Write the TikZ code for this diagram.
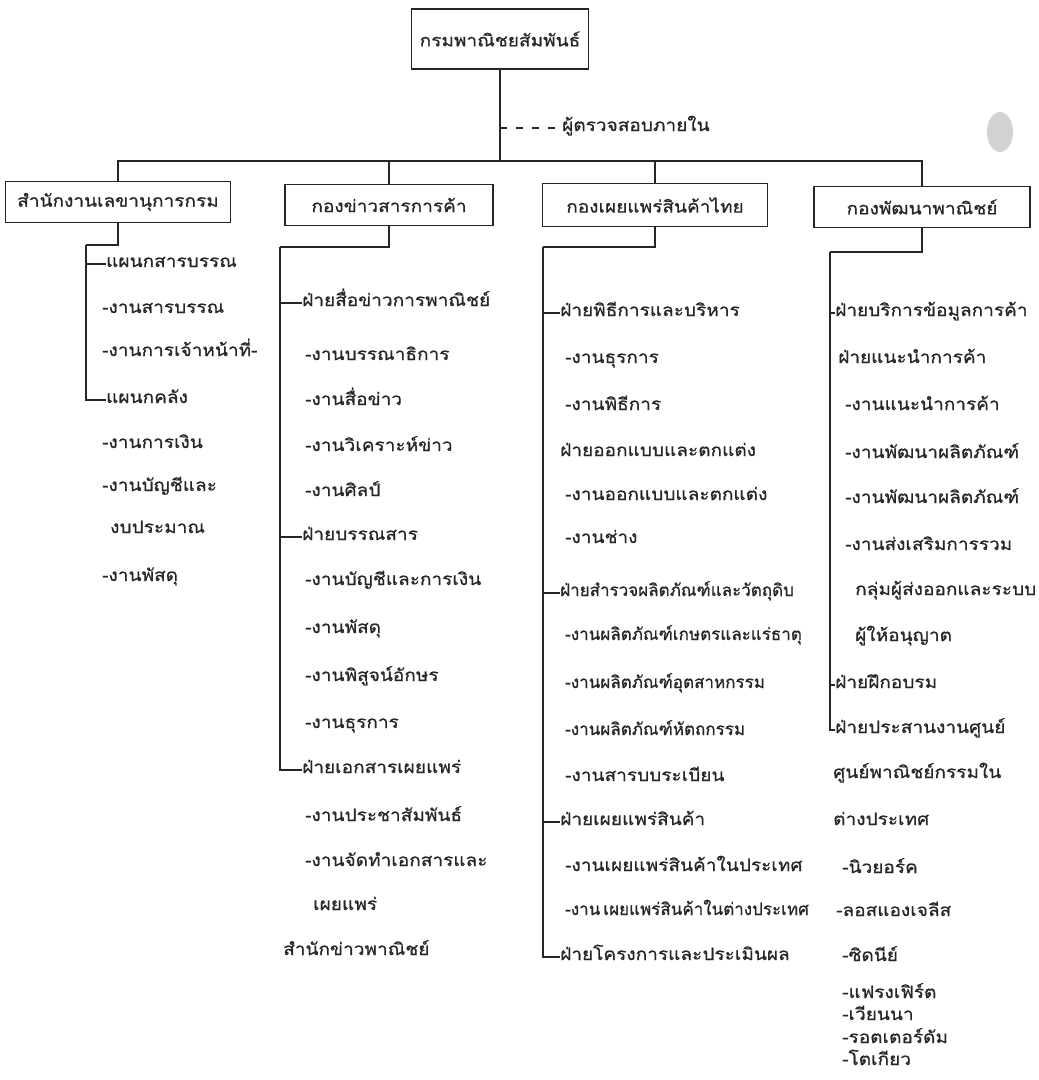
\documentclass[tikz,border=0pt]{standalone}
\usepackage{fontspec}
\newfontfamily\thaifont[Script=Thai,FakeStretch=1.12,FakeBold=0.7]{Loma}
\newfontfamily\thainarrow[Script=Thai,FakeStretch=1.0,FakeBold=0.7]{Loma}
\definecolor{ink}{HTML}{262626}
\begin{document}
\begin{tikzpicture}[x=1pt,y=-1pt,
  txt/.style={font=\thaifont\fontsize{17}{20}\selectfont, text=ink},
  box/.style={txt, draw=ink, line width=1.1pt, inner sep=0pt},
  item/.style={txt, anchor=west, inner sep=0pt, text height=9pt, text depth=3pt},
  narrow/.style={font=\thainarrow\fontsize{17}{20}\selectfont},
  conn/.style={draw=ink, line width=1.1pt}]
\useasboundingbox (0,0) rectangle (1039,1080);
\fill[gray!35] (1000,132) ellipse [x radius=13, y radius=20];

% boxes
\node[box, minimum width=177pt, minimum height=60pt] (top) at (500,39) {กรมพาณิชยสัมพันธ์};
\node[box, minimum width=225pt, minimum height=41pt] (b1) at (118,202) {สำนักงานเลขานุการกรม};
\node[box, minimum width=208pt, minimum height=41pt] (b2) at (389,205) {กองข่าวสารการค้า};
\node[box, minimum width=225pt, minimum height=43pt] (b3) at (655,205) {กองเผยแพร่สินค้าไทย};
\node[box, minimum width=216pt, minimum height=41pt] (b4) at (922,207) {กองพัฒนาพาณิชย์};
\node[item] (audit) at (562,128) {ผู้ตรวจสอบภายใน};

\coordinate (j) at (500,161);
\draw[conn] (top.south) -- (j);
\draw[conn, dash pattern=on 7pt off 9pt] (top.south |- audit.west) -- (audit.west);
\draw[conn] (b1.north) -- (b1.north |- j) -- (b4.north |- j) -- (b4.north);
\draw[conn] (b2.north) -- (b2.north |- j);
\draw[conn] (b3.north) -- (b3.north |- j);

% column 1
\node[item] (a1) at (106,264) {แผนกสารบรรณ};
\node[item] (a2) at (102,310) {-งานสารบรรณ};
\node[item] (a3) at (102,353) {-งานการเจ้าหน้าที่-};
\node[item] (a4) at (106,400) {แผนกคลัง};
\node[item] (a5) at (102,445) {-งานการเงิน};
\node[item] (a6) at (102,488) {-งานบัญชีและ};
\node[item] (a7) at (110,530) {งบประมาณ};
\node[item] (a8) at (102,578) {-งานพัสดุ};
\coordinate (c1) at (86,245);
\draw[conn] (b1.south) |- (c1);
\draw[conn] (c1) |- (a4.west);
\draw[conn] (c1 |- a1.west) -- (a1.west);

% column 2
\node[item] (d1) at (302,303) {ฝ่ายสื่อข่าวการพาณิชย์};
\node[item] (d2) at (305,357) {-งานบรรณาธิการ};
\node[item] (d3) at (305,402) {-งานสื่อข่าว};
\node[item] (d4) at (305,448) {-งานวิเคราะห์ข่าว};
\node[item] (d5) at (305,493) {-งานศิลป์};
\node[item] (d6) at (302,537) {ฝ่ายบรรณสาร};
\node[item] (d7) at (305,582) {-งานบัญชีและการเงิน};
\node[item] (d8) at (305,630) {-งานพัสดุ};
\node[item] (d9) at (305,678) {-งานพิสูจน์อักษร};
\node[item] (d10) at (305,725) {-งานธุรการ};
\node[item] (d11) at (302,770) {ฝ่ายเอกสารเผยแพร่};
\node[item] (d12) at (305,818) {-งานประชาสัมพันธ์};
\node[item] (d13) at (305,863) {-งานจัดทำเอกสารและ};
\node[item] (d14) at (313,907) {เผยแพร่};
\node[item] (d15) at (283,952) {สำนักข่าวพาณิชย์};
\coordinate (c2) at (280,247);
\draw[conn] (b2.south) |- (c2);
\draw[conn] (c2) |- (d11.west);
\draw[conn] (c2 |- d1.west) -- (d1.west);
\draw[conn] (c2 |- d6.west) -- (d6.west);

% column 3
\node[item] (e1) at (560,313) {ฝ่ายพิธีการและบริหาร};
\node[item] (e2) at (565,360) {-งานธุรการ};
\node[item] (e3) at (565,407) {-งานพิธีการ};
\node[item] (e4) at (560,453) {ฝ่ายออกแบบและตกแต่ง};
\node[item] (e5) at (565,497) {-งานออกแบบและตกแต่ง};
\node[item] (e6) at (565,540) {-งานช่าง};
\node[item, narrow] (e7) at (560,593) {ฝ่ายสำรวจผลิตภัณฑ์และวัตถุดิบ};
\node[item, narrow] (e8) at (565,637) {-งานผลิตภัณฑ์เกษตรและแร่ธาตุ};
\node[item, narrow] (e9) at (565,685) {-งานผลิตภัณฑ์อุตสาหกรรม};
\node[item, narrow] (e10) at (565,732) {-งานผลิตภัณฑ์หัตถกรรม};
\node[item] (e11) at (565,778) {-งานสารบบระเบียน};
\node[item] (e12) at (560,822) {ฝ่ายเผยแพร่สินค้า};
\node[item] (e13) at (565,868) {-งานเผยแพร่สินค้าในประเทศ};
\node[item, narrow] (e14) at (565,912) {-งาน\hspace{3pt}เผยแพร่สินค้าในต่างประเทศ};
\node[item] (e15) at (560,957) {ฝ่ายโครงการและประเมินผล};
\coordinate (c3) at (543,247);
\draw[conn] (b3.south) |- (c3);
\draw[conn] (c3) |- (e15.west);
\draw[conn] (c3 |- e1.west) -- (e1.west);
\draw[conn] (c3 |- e7.west) -- (e7.west);
\draw[conn] (c3 |- e12.west) -- (e12.west);

% column 4
\node[item] (f1) at (835,313) {ฝ่ายบริการข้อมูลการค้า};
\node[item] (f2) at (838,360) {ฝ่ายแนะนำการค้า};
\node[item] (f3) at (845,407) {-งานแนะนำการค้า};
\node[item] (f4) at (845,455) {-งานพัฒนาผลิตภัณฑ์};
\node[item] (f5) at (845,500) {-งานพัฒนาผลิตภัณฑ์};
\node[item] (f6) at (845,547) {-งานส่งเสริมการรวม};
\node[item] (f7) at (855,592) {กลุ่มผู้ส่งออกและระบบ};
\node[item] (f8) at (855,638) {ผู้ให้อนุญาต};
\node[item] (f9) at (835,685) {ฝ่ายฝึกอบรม};
\node[item] (f10) at (835,730) {ฝ่ายประสานงานศูนย์};
\node[item] (f11) at (833,775) {ศูนย์พาณิชย์กรรมใน};
\node[item] (f12) at (833,822) {ต่างประเทศ};
\node[item] (f13) at (842,870) {-นิวยอร์ค};
\node[item] (f14) at (836,913) {-ลอสแองเจลีส};
\node[item] (f15) at (842,958) {-ซิดนีย์};
\node[item] (f16) at (842,995) {-แฟรงเฟิร์ต};
\node[item] (f17) at (842,1017) {-เวียนนา};
\node[item] (f18) at (842,1040) {-รอตเตอร์ดัม};
\node[item] (f19) at (842,1062) {-โตเกียว};
\coordinate (c4) at (830,252);
\draw[conn] (b4.south) |- (c4);
\draw[conn] (c4) |- (f10.west);
\draw[conn] (c4 |- f1.west) -- (f1.west);
\draw[conn] (c4 |- f9.west) -- (f9.west);
\end{tikzpicture}
\end{document}
